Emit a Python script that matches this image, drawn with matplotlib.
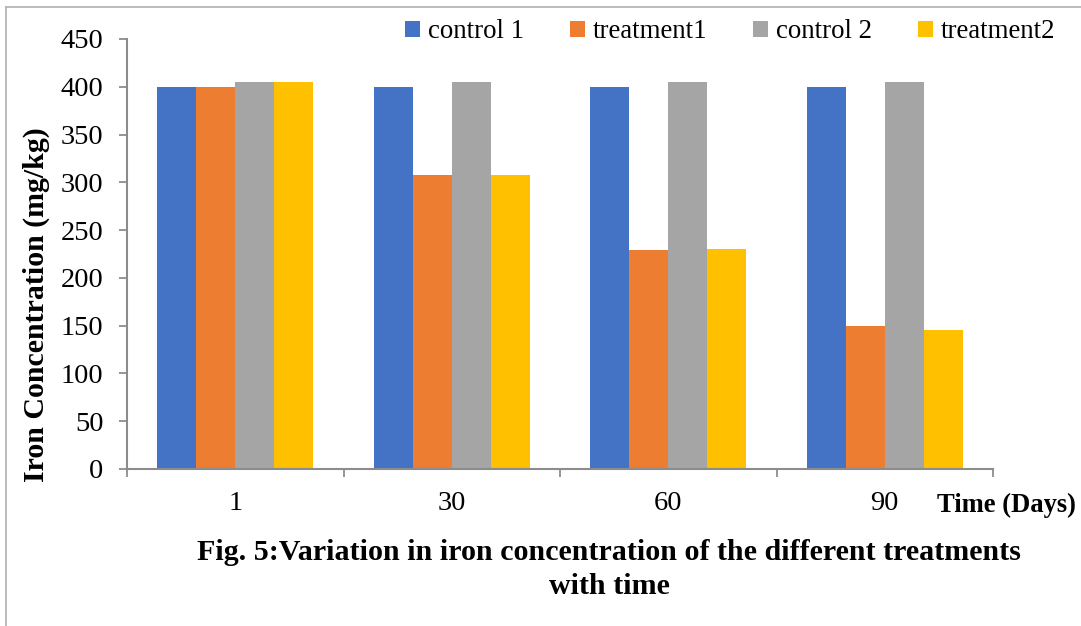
import matplotlib
matplotlib.use("Agg")
import matplotlib.pyplot as plt
import numpy as np
from matplotlib.lines import Line2D

# data
days = ["1", "30", "60", "90"]
control1 = [400, 400, 400, 400]
treatment1 = [400, 308, 229, 150]
control2 = [405, 405, 405, 405]
treatment2 = [405, 308, 230, 145]

series_names = ["control 1", "treatment1", "control 2", "treatment2"]
series_colors = ["#4472C4", "#ED7D31", "#A5A5A5", "#FFC000"]
y_ticks = [0, 50, 100, 150, 200, 250, 300, 350, 400, 450]

plt.rcParams['font.family'] = ['Liberation Serif', 'DejaVu Serif']

fig = plt.figure(figsize=(10.81, 6.26), dpi=100)
ax = fig.add_axes([127/1081, 1 - 469/626, (993-127)/1081, (469-39)/626])

x = np.arange(len(days))
bar_w = 0.18
offsets = np.array([-1.5, -0.5, 0.5, 1.5]) * bar_w
bars = []
for vals, off, col, name in zip([control1, treatment1, control2, treatment2],
                                offsets, series_colors, series_names):
    b = ax.bar(x + off, vals, width=bar_w, color=col, linewidth=0, label=name, zorder=2)
    bars.append(b)

ax.set_xlim(-0.5, len(days) - 0.5)
ax.set_ylim(0, 450)
ax.set_yticks(y_ticks)
ax.set_yticklabels([str(v) for v in y_ticks], fontsize=20.5)

# category labels at centers, tick marks at boundaries
ax.set_xticks(x)
ax.set_xticklabels(days, fontsize=20.5)
ax.set_xticks(np.arange(-0.5, len(days)), minor=True)
ax.tick_params(axis='x', which='major', length=0, pad=16)
ax.tick_params(axis='x', which='minor', length=6, width=1.3, color='#8C8C8C', direction='out')
ax.tick_params(axis='y', length=6, width=1.3, color='#8C8C8C', pad=11)

for side in ['top', 'right']:
    ax.spines[side].set_visible(False)
for side in ['left', 'bottom']:
    ax.spines[side].set_color('#8C8C8C')
    ax.spines[side].set_linewidth(1.5)

ax.set_ylabel("Iron Concentration (mg/kg)", fontsize=21.5, fontweight='bold', va='center')
ax.yaxis.set_label_coords((36-127)/866, (469-305)/430)

fig.legend(handles=bars, labels=series_names, loc='center', ncol=4,
           bbox_to_anchor=(730/1081, 1 - 32/626), frameon=False, fontsize=19.4,
           handlelength=0.55, handleheight=0.55, handletextpad=0.3, columnspacing=1.7)

fig.text(937/1081, 1 - 505/626, "Time (Days)", fontsize=19.2, fontweight='bold',
         ha='left', va='center')
fig.text(609/1081, 1 - 552/626, "Fig. 5:Variation in iron concentration of the different treatments",
         fontsize=21.6, fontweight='bold', ha='center', va='center')
fig.text(609/1081, 1 - 587/626, "with time", fontsize=21.6, fontweight='bold',
         ha='center', va='center')

# thin page border on top and left
fig.add_artist(Line2D([6/1081, 6/1081], [0, 1 - 7/626], transform=fig.transFigure,
                      color='#B0B0B0', linewidth=1.2))
fig.add_artist(Line2D([6/1081, 1], [1 - 7/626, 1 - 7/626], transform=fig.transFigure,
                      color='#B0B0B0', linewidth=1.2))

fig.savefig("out.png", dpi=100)
